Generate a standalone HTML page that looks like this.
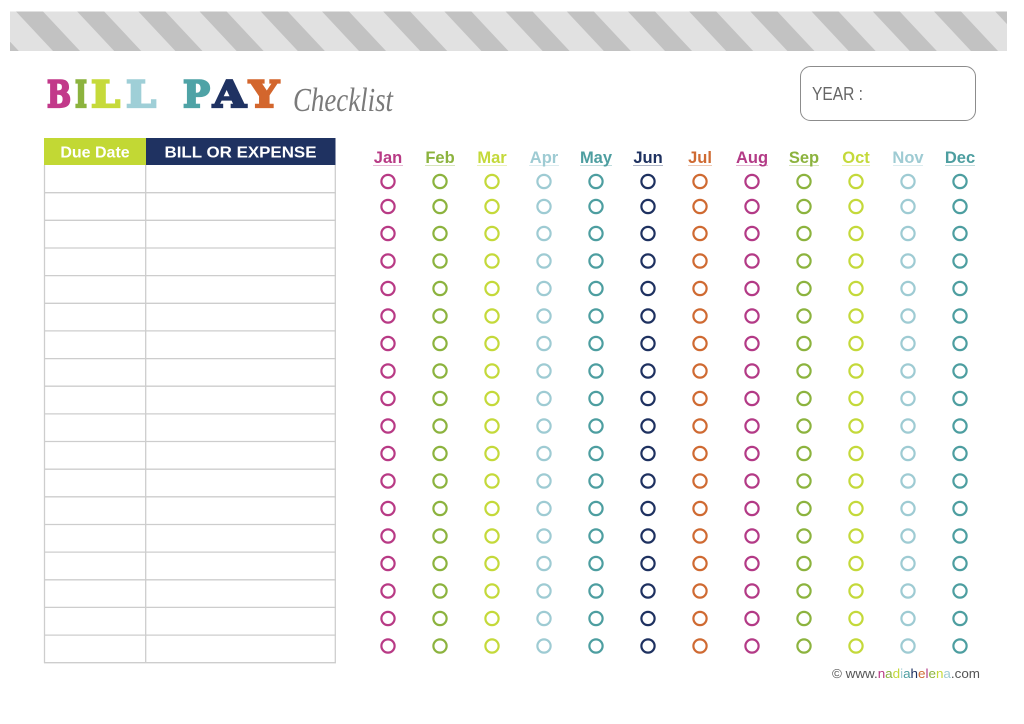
<!DOCTYPE html>
<html><head><meta charset="utf-8"><style>
html,body{margin:0;padding:0;background:#fff;}
svg{display:block;}
</style></head><body>
<svg width="1024" height="724" viewBox="0 0 1024 724" xmlns="http://www.w3.org/2000/svg">
<defs>
<clipPath id="band"><rect x="10" y="11.5" width="997" height="39.5"/></clipPath>
</defs>
<rect width="1024" height="724" fill="#fff"/>
<!-- striped band -->
<rect x="10" y="11.5" width="997" height="39.5" fill="#e1e1e1"/>
<g clip-path="url(#band)" fill="#c2c2c2">
<polygon points="-45.2,11.5 -18.2,11.5 18.8,51 -8.2,51"/>
<polygon points="16,11.5 43,11.5 80,51 53,51"/>
<polygon points="77.2,11.5 104.2,11.5 141.2,51 114.2,51"/>
<polygon points="138.4,11.5 165.4,11.5 202.4,51 175.4,51"/>
<polygon points="199.6,11.5 226.6,11.5 263.6,51 236.6,51"/>
<polygon points="260.8,11.5 287.8,11.5 324.8,51 297.8,51"/>
<polygon points="322,11.5 349,11.5 386,51 359,51"/>
<polygon points="383.2,11.5 410.2,11.5 447.2,51 420.2,51"/>
<polygon points="444.4,11.5 471.4,11.5 508.4,51 481.4,51"/>
<polygon points="505.6,11.5 532.6,11.5 569.6,51 542.6,51"/>
<polygon points="566.8,11.5 593.8,11.5 630.8,51 603.8,51"/>
<polygon points="628,11.5 655,11.5 692,51 665,51"/>
<polygon points="689.2,11.5 716.2,11.5 753.2,51 726.2,51"/>
<polygon points="750.4,11.5 777.4,11.5 814.4,51 787.4,51"/>
<polygon points="811.6,11.5 838.6,11.5 875.6,51 848.6,51"/>
<polygon points="872.8,11.5 899.8,11.5 936.8,51 909.8,51"/>
<polygon points="934,11.5 961,11.5 998,51 971,51"/>
<polygon points="995.2,11.5 1022.2,11.5 1059.2,51 1032.2,51"/>
</g>

<!-- Title -->
<g font-family="'DejaVu Serif', 'Liberation Serif', serif" font-weight="bold" font-size="36" stroke-width="2.2" stroke-linejoin="miter">
<text x="47" y="107" textLength="24" lengthAdjust="spacingAndGlyphs" fill="#c2398a" stroke="#c2398a">B</text>
<text x="75" y="107" textLength="12" lengthAdjust="spacingAndGlyphs" fill="#8cb33e" stroke="#8cb33e">I</text>
<text x="91" y="107" textLength="29" lengthAdjust="spacingAndGlyphs" fill="#c6da3a" stroke="#c6da3a">L</text>
<text x="126" y="107" textLength="30" lengthAdjust="spacingAndGlyphs" fill="#9fcfd7" stroke="#9fcfd7">L</text>
<text x="183" y="107" textLength="27" lengthAdjust="spacingAndGlyphs" fill="#4fa3a6" stroke="#4fa3a6">P</text>
<text x="213" y="107" textLength="33" lengthAdjust="spacingAndGlyphs" fill="#1f3262" stroke="#1f3262">A</text>
<text x="249" y="107" textLength="30" lengthAdjust="spacingAndGlyphs" fill="#d3662d" stroke="#d3662d">Y</text>
</g>
<text x="293" y="111" font-family="'Liberation Serif', serif" font-style="italic" font-size="34" fill="#7a7a7a" textLength="100" lengthAdjust="spacingAndGlyphs">Checklist</text>

<!-- YEAR box -->
<rect x="800.5" y="66.5" width="175" height="54" rx="10" ry="10" fill="none" stroke="#8c8c8c" stroke-width="1"/>
<text x="812" y="100" font-family="'Liberation Sans', sans-serif" font-size="18" fill="#666" textLength="51" lengthAdjust="spacingAndGlyphs">YEAR :</text>

<!-- Table -->
<rect x="44" y="138" width="102" height="27" fill="#c2d834"/>
<rect x="146" y="138" width="189.5" height="27" fill="#1f3261"/>
<text x="95" y="157.5" text-anchor="middle" font-family="'Liberation Sans', sans-serif" font-weight="bold" font-size="16" fill="#fff">Due Date</text>
<text x="240.5" y="157.5" text-anchor="middle" font-family="'Liberation Sans', sans-serif" font-weight="bold" font-size="16" fill="#fff" textLength="152" lengthAdjust="spacingAndGlyphs">BILL OR EXPENSE</text>
<g stroke="#cdcdcd" stroke-width="1.3" fill="none">
<line x1="44.5" y1="165" x2="44.5" y2="663"/>
<line x1="145.7" y1="165" x2="145.7" y2="663"/>
<line x1="335.3" y1="165" x2="335.3" y2="663"/>
<line x1="44" y1="192.7" x2="336" y2="192.7"/>
<line x1="44" y1="220.3" x2="336" y2="220.3"/>
<line x1="44" y1="248" x2="336" y2="248"/>
<line x1="44" y1="275.6" x2="336" y2="275.6"/>
<line x1="44" y1="303.3" x2="336" y2="303.3"/>
<line x1="44" y1="330.9" x2="336" y2="330.9"/>
<line x1="44" y1="358.6" x2="336" y2="358.6"/>
<line x1="44" y1="386.2" x2="336" y2="386.2"/>
<line x1="44" y1="413.9" x2="336" y2="413.9"/>
<line x1="44" y1="441.5" x2="336" y2="441.5"/>
<line x1="44" y1="469.2" x2="336" y2="469.2"/>
<line x1="44" y1="496.8" x2="336" y2="496.8"/>
<line x1="44" y1="524.5" x2="336" y2="524.5"/>
<line x1="44" y1="552.1" x2="336" y2="552.1"/>
<line x1="44" y1="579.8" x2="336" y2="579.8"/>
<line x1="44" y1="607.4" x2="336" y2="607.4"/>
<line x1="44" y1="635.1" x2="336" y2="635.1"/>
<line x1="44" y1="662.7" x2="336" y2="662.7"/>
</g>

<!-- Month labels -->
<g font-family="'Liberation Sans', sans-serif" font-weight="bold" font-size="16.5" text-anchor="middle">
<text x="388" y="163" fill="#b83a85">Jan</text>
<text x="440" y="163" fill="#8cb33e">Feb</text>
<text x="492" y="163" fill="#c4d93a">Mar</text>
<text x="544" y="163" fill="#9ecbd3">Apr</text>
<text x="596" y="163" fill="#4d9ea0">May</text>
<text x="648" y="163" fill="#1e3160">Jun</text>
<text x="700" y="163" fill="#cf6a32">Jul</text>
<text x="752" y="163" fill="#b33a86">Aug</text>
<text x="804" y="163" fill="#8cb33e">Sep</text>
<text x="856" y="163" fill="#c4d93a">Oct</text>
<text x="908" y="163" fill="#9ecbd3">Nov</text>
<text x="960" y="163" fill="#4d9ea0">Dec</text>
</g>
<g stroke-width="1" opacity="0.35">
<line x1="373" y1="165.5" x2="403" y2="165.5" stroke="#b83a85"/>
<line x1="425" y1="165.5" x2="455" y2="165.5" stroke="#8cb33e"/>
<line x1="477" y1="165.5" x2="507" y2="165.5" stroke="#c4d93a"/>
<line x1="529" y1="165.5" x2="559" y2="165.5" stroke="#9ecbd3"/>
<line x1="580" y1="165.5" x2="612" y2="165.5" stroke="#4d9ea0"/>
<line x1="633" y1="165.5" x2="663" y2="165.5" stroke="#1e3160"/>
<line x1="688" y1="165.5" x2="712" y2="165.5" stroke="#cf6a32"/>
<line x1="736" y1="165.5" x2="768" y2="165.5" stroke="#b33a86"/>
<line x1="789" y1="165.5" x2="819" y2="165.5" stroke="#8cb33e"/>
<line x1="842" y1="165.5" x2="870" y2="165.5" stroke="#c4d93a"/>
<line x1="893" y1="165.5" x2="923" y2="165.5" stroke="#9ecbd3"/>
<line x1="945" y1="165.5" x2="975" y2="165.5" stroke="#4d9ea0"/>
</g>

<!-- Circles -->
<defs>
<g id="col">
<circle cx="0" cy="181.5" r="6.6"/>
<circle cx="0" cy="206.5" r="6.6"/>
<circle cx="0" cy="233.5" r="6.6"/>
<circle cx="0" cy="261" r="6.6"/>
<circle cx="0" cy="288.5" r="6.6"/>
<circle cx="0" cy="316" r="6.6"/>
<circle cx="0" cy="343.5" r="6.6"/>
<circle cx="0" cy="371" r="6.6"/>
<circle cx="0" cy="398.5" r="6.6"/>
<circle cx="0" cy="426" r="6.6"/>
<circle cx="0" cy="453.5" r="6.6"/>
<circle cx="0" cy="481" r="6.6"/>
<circle cx="0" cy="508.5" r="6.6"/>
<circle cx="0" cy="536" r="6.6"/>
<circle cx="0" cy="563.5" r="6.6"/>
<circle cx="0" cy="591" r="6.6"/>
<circle cx="0" cy="618.5" r="6.6"/>
<circle cx="0" cy="646" r="6.6"/>
</g>
</defs>
<g fill="none" stroke-width="2.2">
<use href="#col" x="388" stroke="#b83a85"/>
<use href="#col" x="440" stroke="#8cb33e"/>
<use href="#col" x="492" stroke="#c4d93a"/>
<use href="#col" x="544" stroke="#9ecbd3"/>
<use href="#col" x="596" stroke="#4d9ea0"/>
<use href="#col" x="648" stroke="#1e3160"/>
<use href="#col" x="700" stroke="#cf6a32"/>
<use href="#col" x="752" stroke="#b33a86"/>
<use href="#col" x="804" stroke="#8cb33e"/>
<use href="#col" x="856" stroke="#c4d93a"/>
<use href="#col" x="908" stroke="#9ecbd3"/>
<use href="#col" x="960" stroke="#4d9ea0"/>
</g>

<!-- Footer -->
<text x="832" y="678" font-family="'Liberation Sans', sans-serif" font-size="12.5" fill="#555" textLength="148" lengthAdjust="spacingAndGlyphs">© www.<tspan fill="#b83a85">n</tspan><tspan fill="#8cb33e">a</tspan><tspan fill="#c4d93a">d</tspan><tspan fill="#9ecbd3">i</tspan><tspan fill="#4d9ea0">a</tspan><tspan fill="#1e3160">h</tspan><tspan fill="#cf6a32">e</tspan><tspan fill="#b33a86">l</tspan><tspan fill="#8cb33e">e</tspan><tspan fill="#c4d93a">n</tspan><tspan fill="#9ecbd3">a</tspan>.com</text>
</svg>
</body></html>
